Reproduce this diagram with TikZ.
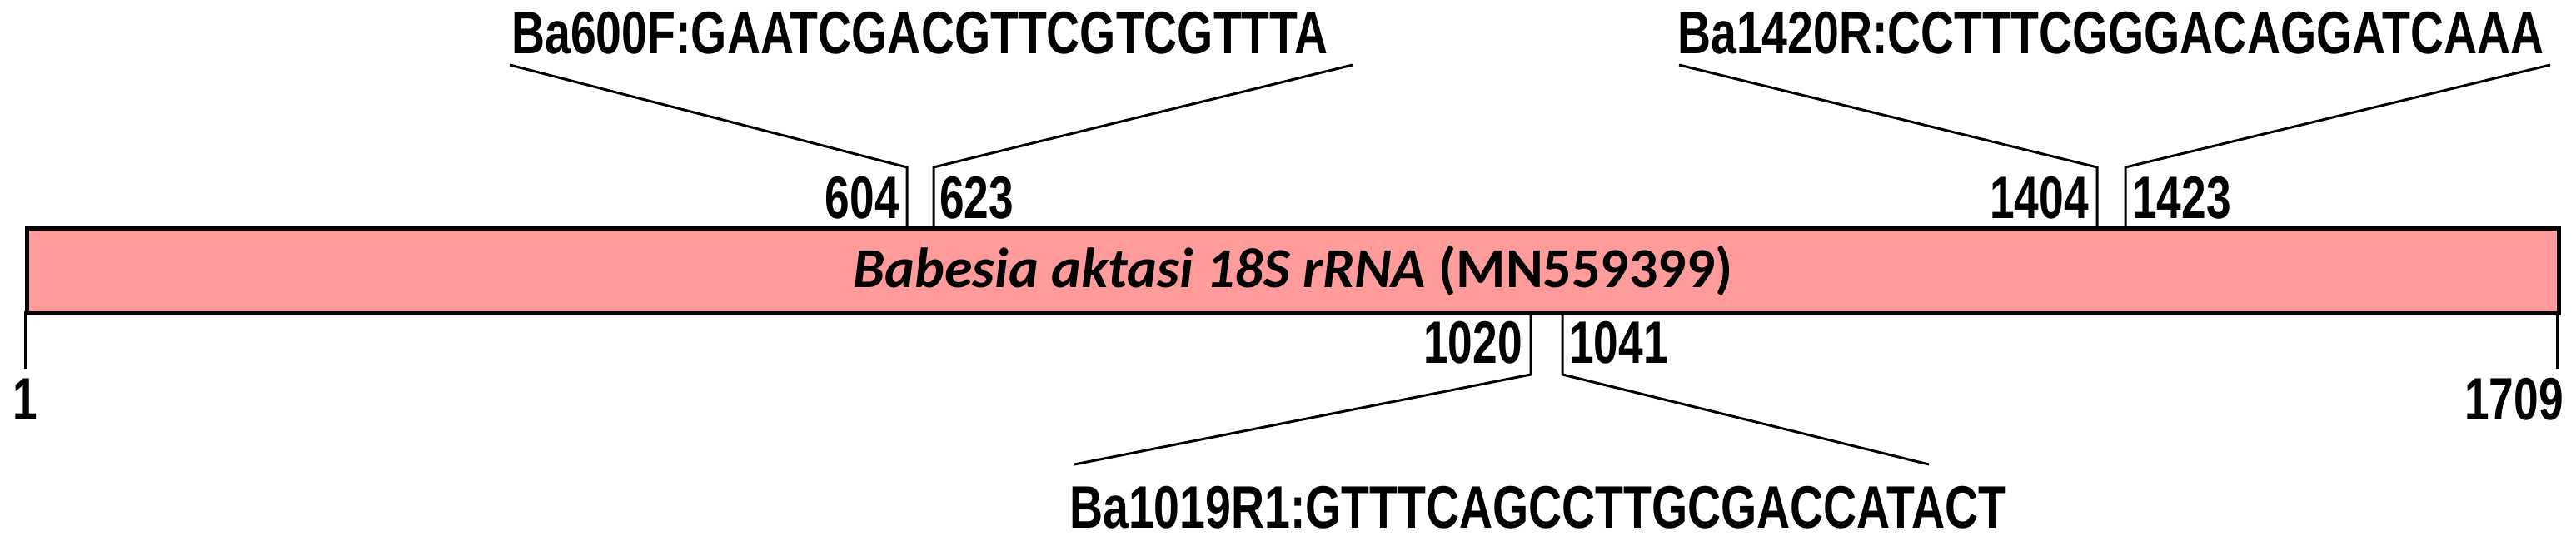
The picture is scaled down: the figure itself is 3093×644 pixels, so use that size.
\documentclass[tikz,border=0pt]{standalone}
\usepackage{fontspec}
\setmainfont{Liberation Sans}
\newfontfamily\calib{Carlito}
\definecolor{barpink}{HTML}{FF9B9B}
\newcommand{\nar}[1]{\scalebox{0.74}[1]{#1}}
\newcommand{\narl}[1]{\scalebox{0.77}[1]{#1}}
\begin{document}
\begin{tikzpicture}[x=1pt,y=-1pt,
  ln/.style={line width=3pt},
  lbl/.style={inner sep=0pt,font=\fontsize{72}{72}\selectfont\bfseries},
  num/.style={inner sep=0pt,font=\fontsize{72}{72}\selectfont\bfseries}]
\useasboundingbox (0,0) rectangle (3093,644);
\node[draw,line width=5pt,fill=barpink,minimum width=3040pt,minimum height=102pt,inner sep=0pt,anchor=north west] (bar) at (30,272) {};
\node[inner sep=0pt,font=\fontsize{68}{68}\selectfont\calib\bfseries] (title) at (bar.center) {\textit{Babesia aktasi 18S rRNA} (MN559399)};
% ends
\coordinate (l0) at (30,374); \coordinate (l1) at (30,443);
\coordinate (r0) at (3070,374); \coordinate (r1) at (3070,443);
\draw[ln] (l0) -- (l1); \draw[ln] (r0) -- (r1);
\node[num] (n1) at (30,480) {\nar{1}};
\node[num,anchor=east] (n1709) at (3078,480) {\nar{1709}};
% 600F
\node[lbl,anchor=west] (p1) at (614,40) {\narl{Ba600F:GAATCGACGTTCGTCGTTTA}};
\coordinate (a1) at (612,78); \coordinate (a2) at (1089,201); \coordinate (a3) at (1089,272);
\coordinate (b1) at (1624,78); \coordinate (b2) at (1121,201); \coordinate (b3) at (1121,272);
\draw[ln] (a1) -- (a2) -- (a3); \draw[ln] (b1) -- (b2) -- (b3);
\node[num,anchor=east] (n604) at (1080,238) {\nar{604}};
\node[num,anchor=west] (n623) at (1128,238) {\nar{623}};
% 1420R
\node[lbl,anchor=west] (p2) at (2014,40) {\narl{Ba1420R:CCTTTCGGGACAGGATCAAA}};
\coordinate (c1) at (2016,78); \coordinate (c2) at (2518,201); \coordinate (c3) at (2518,272);
\coordinate (d1) at (3062,78); \coordinate (d2) at (2552,201); \coordinate (d3) at (2552,272);
\draw[ln] (c1) -- (c2) -- (c3); \draw[ln] (d1) -- (d2) -- (d3);
\node[num,anchor=east] (n1404) at (2508,238) {\nar{1404}};
\node[num,anchor=west] (n1423) at (2560,238) {\nar{1423}};
% 1019R1
\node[lbl,anchor=west] (p3) at (1284,610) {\narl{Ba1019R1:GTTTCAGCCTTGCGACCATACT}};
\coordinate (e1) at (1838,374); \coordinate (e2) at (1838,450); \coordinate (e3) at (1290,558);
\coordinate (f1) at (1876,374); \coordinate (f2) at (1876,450); \coordinate (f3) at (2316,558);
\draw[ln] (e1) -- (e2) -- (e3); \draw[ln] (f1) -- (f2) -- (f3);
\node[num,anchor=east] (n1020) at (1828,412) {\nar{1020}};
\node[num,anchor=west] (n1041) at (1884,412) {\nar{1041}};
\end{tikzpicture}
\end{document}
